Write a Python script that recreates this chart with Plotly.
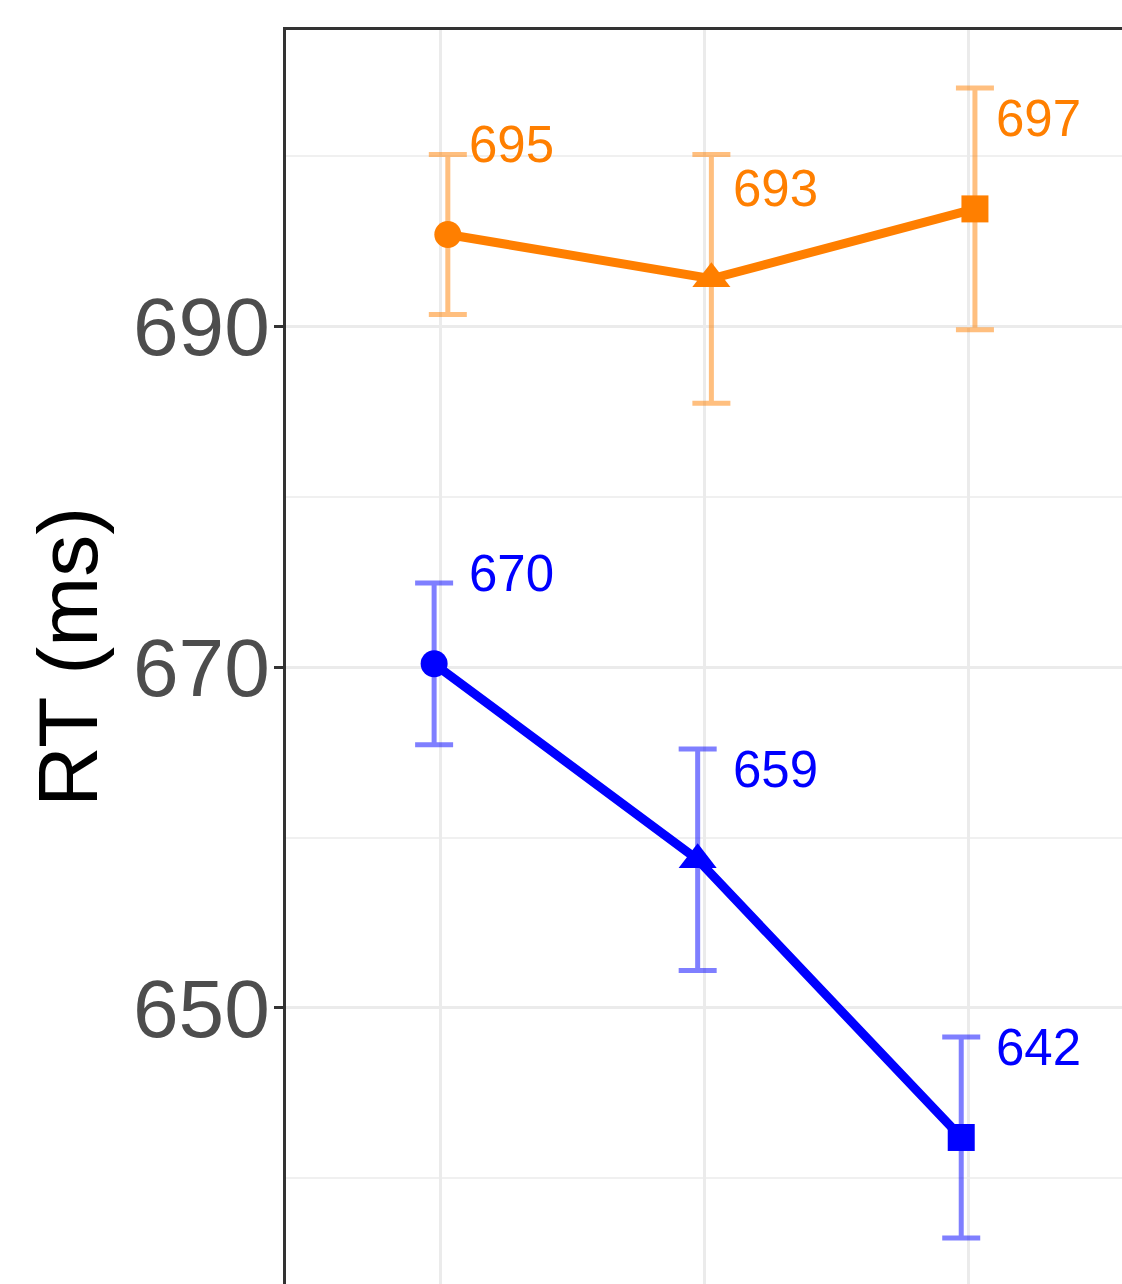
import plotly.graph_objects as go

conditions = [1, 2, 3]
symbols = ["circle", "triangle-up", "square"]

orange_mean = [695.4, 692.8, 696.9]
orange_se = [4.7, 7.3, 7.1]
orange_labels = ["695", "693", "697"]

blue_mean = [670.2, 658.7, 642.4]
blue_se = [4.75, 6.5, 5.9]
blue_labels = ["670", "659", "642"]

ORANGE = "#FF7F00"
BLUE = "#0000FF"
dodge = 0.026
label_dx = 0.1
label_dy = 5.3

fig = go.Figure()

series = [
    (orange_mean, orange_se, orange_labels, ORANGE, "rgba(255,127,0,0.5)", +dodge),
    (blue_mean, blue_se, blue_labels, BLUE, "rgba(0,0,255,0.5)", -dodge),
]

for means, ses, labels, col, ecol, dx in series:
    xs = [c + dx for c in conditions]
    fig.add_trace(go.Scatter(
        x=xs, y=means, mode="markers",
        marker=dict(size=1, opacity=0),
        error_y=dict(type="data", array=ses, visible=True, color=ecol,
                     thickness=5, width=19),
        showlegend=False, hoverinfo="skip",
    ))
for means, ses, labels, col, ecol, dx in series:
    xs = [c + dx for c in conditions]
    fig.add_trace(go.Scatter(
        x=xs, y=means, mode="lines",
        line=dict(color=col, width=9),
        showlegend=False, hoverinfo="skip",
    ))
    fig.add_trace(go.Scatter(
        x=xs, y=means, mode="markers",
        marker=dict(symbol=symbols, size=[27, 33, 27], color=col,
                    opacity=1, line=dict(width=0)),
        showlegend=False,
    ))
    for c, m, lab in zip(conditions, means, labels):
        fig.add_annotation(
            x=c + label_dx, y=m + label_dy, text=lab, showarrow=False,
            xanchor="left", yanchor="middle",
            font=dict(size=51, color=col, family="Liberation Sans"),
        )

fig.update_layout(
    width=1122, height=1284,
    margin=dict(l=286, r=0, t=30, b=0),
    paper_bgcolor="white", plot_bgcolor="white",
    font=dict(family="Liberation Sans"),
)

fig.update_xaxes(
    range=[0.412, 3.584], tickvals=conditions, showticklabels=False,
    showgrid=True, gridcolor="#ebebeb", gridwidth=3,
    zeroline=False, side="top", showline=True, linecolor="#333333",
    linewidth=2.5, ticks="",
)

fig.update_yaxes(
    range=[633.8, 707.4], tickvals=[650, 670, 690],
    ticktext=["650", "670", "690"],
    tickfont=dict(size=82, color="#4d4d4d", family="Liberation Sans"),
    ticklabelstandoff=-12,
    showgrid=True, gridcolor="#ebebeb", gridwidth=2.5,
    minor=dict(tickvals=[640, 660, 680, 700], showgrid=True,
               gridcolor="#f0f0f0", gridwidth=1.5, ticks=""),
    zeroline=False, showline=True, linecolor="#333333", linewidth=2.5,
    ticks="outside", ticklen=9, tickwidth=2.5, tickcolor="#333333",
    title=dict(text="RT (ms)", font=dict(size=84, color="black",
               family="Liberation Sans"), standoff=8),
)

fig.write_html(
    "out.html",
    config={"displayModeBar": False},
    post_script="document.body.style.margin='0';document.body.style.overflow='hidden';",
)
